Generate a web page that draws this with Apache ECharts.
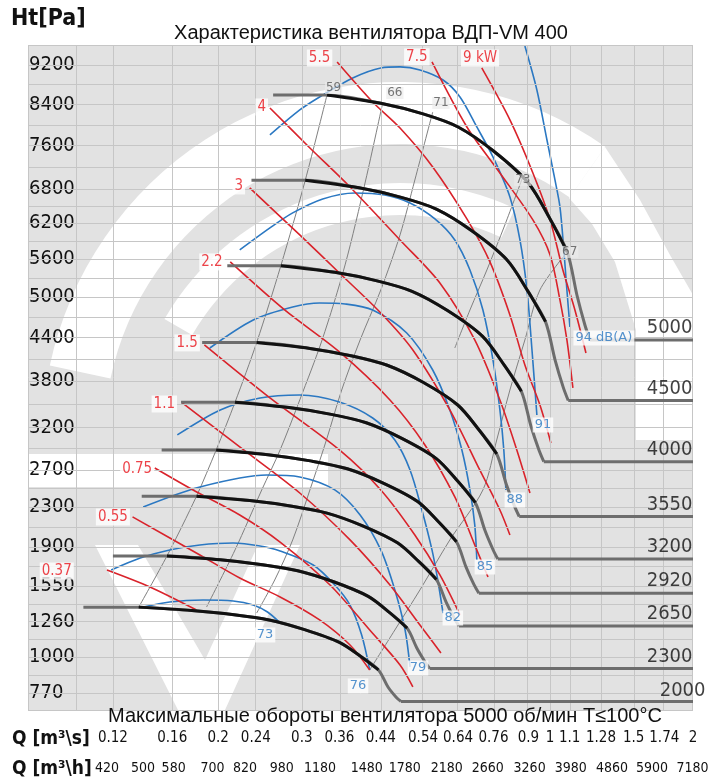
<!DOCTYPE html>
<html><head><meta charset="utf-8">
<script src="https://cdn.jsdelivr.net/npm/echarts@6/dist/echarts.min.js"></script>
<style>html,body{margin:0;padding:0;background:#fff}#c{width:726px;height:781px}</style>
</head><body><div id="c"></div>
<script>
// ---------- axis ticks ----------
const yTicks=[9200,8400,7600,6800,6200,5600,5000,4400,3800,3200,2700,2300,1900,1550,1260,1000,770];
const qTicksS=[0.12,0.16,0.2,0.24,0.3,0.36,0.44,0.54,0.64,0.76,0.9,1,1.1,1.28,1.5,1.74,2];
const qTicksH=[420,500,580,700,820,980,1180,1480,1780,2180,2660,3260,3980,4860,5900,7180];
// ---------- fan curves (Q m3/s, Ht Pa) ----------
const rpm=[5000,4500,4000,3550,3200,2920,2650,2300,2000];
const q5000=[0.261,0.339,0.44,0.54,0.64,0.76,0.90,1.00,1.087,1.139,1.184,1.213];
const h5000=[8588,8588,8420,8210,7955,7496,6907,6274,5719,5034,4583,4365];
const q4500=[0.235,0.305,0.396,0.486,0.576,0.684,0.81,0.90,0.978,1.025,1.066,1.092];
const h4500=[6956,6956,6820,6650,6444,6072,5595,5082,4632,4078,3712,3540];
const q4000=[0.209,0.271,0.352,0.432,0.512,0.608,0.72,0.80,0.870,0.911,0.947,0.970];
const h4000=[5496,5496,5389,5254,5091,4797,4420,4015,3660,3222,2933,2794];
const q3550=[0.185,0.241,0.312,0.383,0.454,0.540,0.639,0.71,0.772,0.809,0.841,0.861];
const h3550=[4329,4329,4245,4139,4010,3779,3482,3163,2883,2538,2310,2200];
const q3200=[0.167,0.217,0.282,0.346,0.410,0.486,0.576,0.64,0.696,0.729,0.758,0.776];
const h3200=[3518,3518,3449,3363,3258,3070,2829,2570,2343,2062,1877,1788];
const q2920=[0.152,0.198,0.257,0.315,0.374,0.444,0.526,0.584,0.635,0.665,0.691,0.708];
const h2920=[2929,2929,2871,2800,2713,2556,2355,2139,1950,1717,1563,1488];
const q2650=[0.138,0.180,0.233,0.286,0.339,0.403,0.477,0.53,0.576,0.604,0.628,0.643];
const h2650=[2412,2412,2365,2306,2235,2106,1940,1762,1606,1414,1287,1226];
const q2300=[0.120,0.156,0.202,0.248,0.294,0.350,0.414,0.46,0.500,0.524,0.545,0.558];
const h2300=[1817,1817,1782,1737,1683,1586,1462,1328,1210,1065,970,924];
const q2000=[0.104,0.136,0.176,0.216,0.256,0.304,0.36,0.40,0.435,0.456,0.474,0.485];
const h2000=[1374,1374,1347,1314,1273,1199,1105,1004,915,805,745,720];
// ---------- efficiency boundary lines ----------
const effText=['59','66','71','73','67'];
const effQ=[0.350,0.471,0.589,0.876,1.10];
const effH=[8729,8627,8427,6962,5719];
const qLineA=[0.339,0.305,0.271,0.241,0.217,0.198,0.180,0.156,0.136];
const hLineA=[8588,6956,5496,4329,3518,2929,2412,1817,1374];
const qLineB=[0.444,0.409,0.370,0.331,0.297,0.270,0.247,0.217,0.189];
const hLineB=[8427,6962,5508,4365,3547,2930,2479,1873,1375];
const qLineC=[0.566,0.519,0.483,0.44,0.398,0.364,0.338,0.312,0.287,0.263,0.241];
const hLineC=[8248,6962,6002,5112,4365,3677,3048,2479,1968,1601,1327];
const qLineD=[0.876,0.803,0.736,0.678,0.630];
const hLineD=[7016,6170,5427,4806,4251];
const qLineE=[1.087,0.952,0.885,0.823,0.772,0.722,0.615,0.532,0.471,0.417];
const hLineE=[5719,5112,4365,3677,3048,2479,1968,1516,1196,915];
// ---------- power lines (kW) ----------
const kwText=['0.37','0.55','0.75','1.1','1.5','2.2','3','4','5.5','7.5','9 kW'];
const kwLabelQ=[0.0914,0.12,0.135,0.154,0.172,0.194,0.221,0.247,0.327,0.524,0.712];
const kwLabelH=[1680,2196,2711,3495,4323,5556,6854,8347,9347,9370,9347];
const qP037=[0.1166,0.1436,0.180];
const hP037=[1689,1541,1351];
const qP055=[0.132,0.183,0.222,0.270,0.327,0.379,0.417];
const hP055=[2196,1826,1619,1457,1273,1086,915];
const qP075=[0.147,0.177,0.222,0.270,0.344,0.417,0.483,0.514];
const hP075=[2722,2479,2216,1948,1558,1196,948,807];
const qP11=[0.168,0.222,0.297,0.379,0.460,0.532,0.589];
const hP11=[3508,2965,2446,1968,1558,1234,1030];
const qP15=[0.187,0.257,0.36,0.44,0.519,0.586,0.646];
const hP15=[4294,3573,2930,2479,2016,1645,1312];
const qP22=[0.212,0.276,0.36,0.460,0.545,0.630,0.694,0.740];
const hP22=[5556,4806,4195,3547,2989,2404,1920,1627];
const qP3=[0.233,0.297,0.36,0.44,0.514,0.615,0.711,0.784,0.823];
const hP3=[6818,6002,5379,4761,4223,3419,2700,2267,2016];
const qP4=[0.257,0.312,0.379,0.483,0.586,0.694,0.784,0.851,0.907];
const hP4=[8327,7554,6836,5918,5221,4365,3547,2930,2446];
const qP55=[0.356,0.423,0.483,0.566,0.668,0.747,0.823,0.885,0.952,1.004];
const hP55=[9264,8447,7935,7200,6274,5556,4731,4014,3483,3013];
const qP75=[0.564,0.668,0.784,0.920,1.00,1.049,1.085,1.117];
const hP75=[9264,7955,7090,6257,5670,4958,4365,3704];
const qP9=[0.718,0.823,0.920,1.00,1.064,1.128,1.190];
const hP9=[9139,8093,7090,6257,5427,4806,4181];
// ---------- noise lines dB(A) ----------
const dbText=['73','76','79','82','85','88','91','94 dB(A)'];
const dbLabelQ=[0.251,0.394,0.527,0.624,0.729,0.843,0.966,1.298];
const dbLabelH=[1159,813,928,1288,1716,2372,3231,4394];
const qN73=[0.139,0.158,0.186,0.215,0.237,0.254,0.270];
const hN73=[1375,1416,1432,1424,1391,1335,1250];
const qN76=[0.119,0.137,0.158,0.183,0.215,0.245,0.270,0.317,0.352,0.379,0.401,0.417];
const hN76=[1689,1798,1873,1920,1939,1910,1863,1734,1558,1391,1159,915];
const qN79=[0.139,0.183,0.253,0.297,0.352,0.398,0.44,0.471,0.495,0.507];
const hN79=[2298,2511,2643,2621,2479,2216,1873,1516,1196,935];
const qN82=[0.164,0.202,0.245,0.297,0.36,0.423,0.471,0.507,0.537,0.564,0.580,0.595];
const hN82=[3109,3419,3573,3612,3521,3318,3048,2700,2267,1873,1601,1327];
const qN85=[0.192,0.237,0.287,0.327,0.370,0.423,0.499,0.566,0.615,0.652,0.678,0.694,0.701];
const hN85=[4251,4657,4851,4912,4897,4806,4466,3945,3419,2930,2479,2115,1780];
const qN88=[0.222,0.257,0.287,0.332,0.388,0.449,0.507,0.572,0.630,0.678,0.722,0.758,0.784,0.799,0.807];
const hN88=[5752,6120,6378,6623,6729,6693,6551,6274,5918,5427,4806,4083,3419,2930,2479];
const qN91=[0.257,0.297,0.327,0.384,0.44,0.483,0.532,0.595,0.646,0.701,0.758,0.823,0.864,0.894,0.916,0.938];
const hN91=[7801,8288,8547,8932,9139,9161,9098,8891,8547,7955,7386,6657,5918,5112,4223,3356];
const qN94=[0.885,0.938,0.985,1.024,1.049,1.069,1.085,1.101];
const hN94=[9600,8688,7705,6962,6482,5752,5112,4554];

// ---------- helpers ----------
const L=Math.log, S=Math.sqrt;
const pts=(q,h)=>q.map((v,i)=>[L(v),S(h[i])]);
const X0=Math.log(0.0795), X1=Math.log(2), Y0=25.9, Y1=98.09;
const fN="'DejaVu Sans Condensed','DejaVu Sans',sans-serif";
const fR="'Liberation Sans',Arial,sans-serif";
const fD="'DejaVu Sans',sans-serif";

const ys=yTicks.map(S);
const hGrid=[Y0,Y1].concat(ys);
for(let i=0;i<ys.length-1;i++) hGrid.push((ys[i]+ys[i+1])/2);
const vGrid=[X0,L(0.1)].concat(qTicksS.map(L));

const series=[];
series.push({type:'line',data:[[X0,Y0]],symbol:'none',lineStyle:{opacity:0},silent:true,z:1,
  markLine:{silent:true,symbol:'none',animation:false,label:{show:false},
    lineStyle:{color:'#c6c6c6',width:1,type:'solid'},
    data:hGrid.map(v=>({yAxis:v})).concat(vGrid.map(v=>({xAxis:v})))}});

const line=(q,h,color,width,z,extra)=>Object.assign({type:'line',data:pts(q,h),symbol:'none',silent:true,
  smooth:0.3,lineStyle:{color:color,width:width},z:z},extra||{});

// thin efficiency lines
[[qLineA,hLineA],[qLineB,hLineB],[qLineC,hLineC],[qLineD,hLineD],[qLineE,hLineE]].forEach(a=>
  series.push(line(a[0],a[1],'#808080',1,3)));
// noise lines
[[qN73,hN73],[qN76,hN76],[qN79,hN79],[qN82,hN82],[qN85,hN85],[qN88,hN88],[qN91,hN91],[qN94,hN94]].forEach(a=>
  series.push(line(a[0],a[1],'#2b78c2',1.6,4)));
// power lines
[[qP037,hP037],[qP055,hP055],[qP075,hP075],[qP11,hP11],[qP15,hP15],[qP22,hP22],[qP3,hP3],[qP4,hP4],[qP55,hP55],[qP75,hP75],[qP9,hP9]].forEach(a=>
  series.push(line(a[0],a[1],'#d9232b',1.6,4)));
// fan curves
const curves=[[q5000,h5000],[q4500,h4500],[q4000,h4000],[q3550,h3550],[q3200,h3200],[q2920,h2920],[q2650,h2650],[q2300,h2300],[q2000,h2000]];
curves.forEach(c=>{
  const q=c[0],h=c[1],n=q.length;
  series.push(line(q,h,'#6d6d6d',3,5));
  series.push(line([q[n-1],2],[h[n-1],h[n-1]],'#6d6d6d',3,5,{smooth:false}));
  series.push(line(q.slice(1,9),h.slice(1,9),'#111111',3,6));
});

// labels
const lab=(texts,qs,hs,style,z)=>({type:'scatter',symbolSize:1,silent:true,z:z||10,itemStyle:{color:'rgba(0,0,0,0)'},
  data:texts.map((t,i)=>({value:[L(qs[i]),S(hs[i])],name:t})),
  label:Object.assign({show:true,position:'inside',formatter:p=>p.name},style)});
series.push(lab(effText,effQ,effH,{color:'#555',fontSize:12,fontFamily:fD,backgroundColor:'rgba(235,235,235,0.85)',padding:[0,1]}));
series.push(lab(dbText,dbLabelQ,dbLabelH,{color:'#2b78c2',fontSize:13,fontFamily:fD,backgroundColor:'#fff',padding:[1,2]}));
series.push(lab(kwText,kwLabelQ,kwLabelH,{color:'#e8141b',fontSize:15,fontFamily:fN,backgroundColor:'#fff',padding:[1,2]}));
series.push({type:'scatter',symbolSize:1,silent:true,z:10,itemStyle:{color:'rgba(0,0,0,0)'},
  data:rpm.map((r,i)=>({value:[L(2),S(curves[i][1][curves[i][1].length-1])],name:String(r),
     label:{offset:i===8?[13,-11]:[0,-12]}})),
  label:{show:true,position:'left',distance:0,formatter:p=>p.name,fontSize:20,fontFamily:fN,color:'#111'}});

const deg=Math.PI/180;
const W='#ffffff';
const option={
  animation:false,
  grid:{left:28,top:45,width:665,height:665,containLabel:false},
  xAxis:[
    {type:'value',min:X0,max:X1,position:'bottom',axisLine:{show:false},axisTick:{show:false},splitLine:{show:false},
     axisLabel:{customValues:qTicksS.map(L),formatter:v=>String(+Math.exp(v).toPrecision(3)),margin:21,fontSize:15,fontFamily:fN,color:'#111'}},
    {type:'value',min:X0,max:X1,position:'bottom',offset:30,axisLine:{show:false},axisTick:{show:false},splitLine:{show:false},
     axisLabel:{customValues:qTicksH.map(h=>L(h/3600)),formatter:v=>String(Math.round(Math.exp(v)*3600)),margin:21,fontSize:14,fontFamily:fN,color:'#111'}}
  ],
  yAxis:{type:'value',min:Y0,max:Y1,axisLine:{show:false},axisTick:{show:false},splitLine:{show:false},
     axisLabel:{inside:true,margin:1,customValues:ys,formatter:v=>String(Math.round(v*v)),fontSize:20,fontFamily:fN,color:'#111'}},
  graphic:[
    {type:'rect',silent:true,z:-100,shape:{x:28,y:45,width:665,height:665},style:{fill:'#e2e2e2'}},
    {type:'sector',silent:true,z:-90,shape:{cx:400,cy:440,r0:296,r:358,startAngle:-168*deg,endAngle:-55*deg,clockwise:true},style:{fill:W}},
    {type:'polygon',silent:true,z:-90,shape:{points:[[605,147],[640,200],[670,255],[693,295],[693,440],[636,440],[636,330],[615,262],[592,224],[569,198]]},style:{fill:W}},
    {type:'sector',silent:true,z:-90,shape:{cx:400,cy:455,r0:240,r:272,startAngle:-150*deg,endAngle:-65*deg,clockwise:true},style:{fill:W}},
    {type:'rect',silent:true,z:-90,shape:{x:28,y:454,width:300,height:33},style:{fill:W}},
    {type:'polygon',silent:true,z:-90,shape:{points:[[95,545],[138,545],[205,660],[258,545],[300,545],[225,710],[178,710]]},style:{fill:W}},
    {type:'text',z:20,left:11,top:8,style:{text:'Ht[Pa]',font:"bold 23px "+fN,fill:'#111'}},
    {type:'text',z:20,x:371,y:33,style:{text:'Характеристика вентилятора ВДП-VM 400',font:"20px "+fR,fill:'#111',textAlign:'center',textVerticalAlign:'middle'}},
    {type:'text',z:20,x:385,y:716,style:{text:'Максимальные обороты вентилятора 5000 об/мин T≤100°C',font:"20px "+fR,fill:'#111',textAlign:'center',textVerticalAlign:'middle'}},
    {type:'text',z:20,x:12,y:739,style:{text:'Q [m³\\s]',font:"bold 19px "+fN,fill:'#111',textVerticalAlign:'middle'}},
    {type:'text',z:20,x:12,y:769,style:{text:'Q [m³\\h]',font:"bold 19px "+fN,fill:'#111',textVerticalAlign:'middle'}}
  ],
  series:series
};
const chart=echarts.init(document.getElementById('c'),null,{renderer:'canvas'});
chart.setOption(option);
</script></body></html>
